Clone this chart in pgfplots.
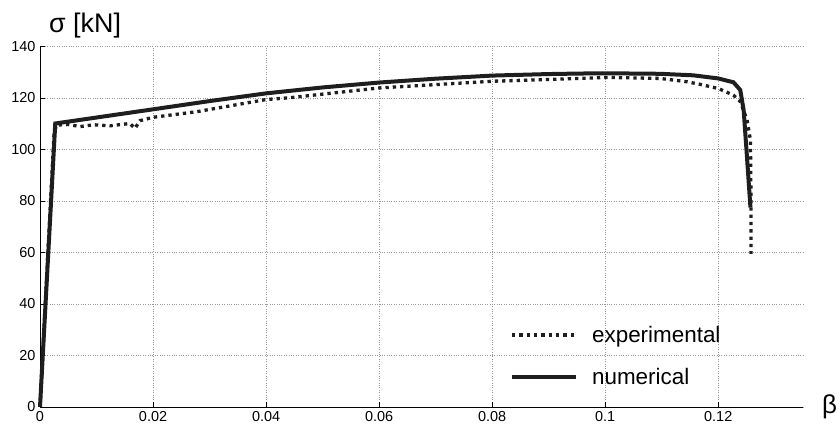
\documentclass[border=0pt]{standalone}
\usepackage{pgfplots}
\pgfplotsset{compat=1.18}
\usepackage{fontspec}
\setmainfont{Liberation Sans}
\definecolor{curve}{HTML}{1E1E1E}
\begin{document}
\begin{tikzpicture}
\begin{axis}[
  scale only axis,
  width=763bp, height=360.5bp,
  xmin=0, xmax=0.135, ymin=0, ymax=140,
  axis lines=left,
  axis line style={-, black, line width=0.8bp},
  xtick={0,0.02,0.04,0.06,0.08,0.1,0.12},
  ytick={0,20,...,140},
  xticklabels={0,0.02,0.04,0.06,0.08,0.1,0.12},
  tick align=inside,
  major tick length=5bp,
  tick style={black, line width=0.7bp},
  grid=major,
  grid style={dotted, gray!80, line width=0.6bp},
  /pgf/number format/assume math mode=true,
  tick label style={font=\fontsize{14.5}{16}\selectfont},
  every x tick label/.append style={yshift=-1bp},
  every y tick label/.append style={xshift=-1bp},
  clip=false,
  legend cell align=left,
  legend style={draw=none, fill=none, at={(rel axis cs:0.612,0.1415)}, anchor=west,
    font=\fontsize{22.5}{26}\selectfont, row sep=20bp,
    /tikz/every odd column/.append style={column sep=12bp}},
  legend image code/.code={\draw[#1] (0bp,0bp) -- (64bp,0bp);},
]
\addplot[curve, line width=3.3bp, dash pattern=on 3.3bp off 4bp] coordinates {
(0,0) (0.0025,107) (0.003,109.5) (0.005,109.7) (0.0071,108.9) (0.0095,109.6)
(0.0124,109.2) (0.0159,110.1) (0.0168,108.2) (0.0177,111.2) (0.02,112.5)
(0.0278,114.7) (0.04,119.4) (0.0442,120.1) (0.06,123.9) (0.08,126.5)
(0.0956,127.6) (0.1,128.0) (0.1097,127.6) (0.1145,126.3) (0.1168,125.3)
(0.12,123.7) (0.1227,121.1) (0.1239,118.6) (0.1251,111.5) (0.1257,103.7)
(0.1258,80) (0.1258,59.5)
};
\addlegendentry{experimental}
\addplot[curve, line width=4bp] coordinates {
(0,0) (0.0027,110.1) (0.02,115.6) (0.03,118.8) (0.04,121.8) (0.05,124.1)
(0.06,126.0) (0.07,127.5) (0.08,128.7) (0.09,129.3) (0.0956,129.5) (0.1,129.6)
(0.1097,129.4) (0.1156,128.8) (0.12,127.6) (0.1227,126.1) (0.1239,123.1)
(0.1245,115.3) (0.125,99.8) (0.1257,77.5)
};
\addlegendentry{numerical}
\node[anchor=base west, inner sep=0, font=\fontsize{27}{29}\selectfont]
  at (rel axis cs:0,1) [xshift=9bp, yshift=13.5bp] {σ [kN]};
\node[anchor=base west, inner sep=0, font=\fontsize{26}{28}\selectfont]
  at (rel axis cs:1,0) [xshift=19bp, yshift=-7bp] {β};
\end{axis}
\pgfresetboundingbox
\useasboundingbox ([xshift=-40bp,yshift=-18bp]current axis.south west) rectangle ([xshift=36bp,yshift=46.5bp]current axis.north east);
\end{tikzpicture}
\end{document}
